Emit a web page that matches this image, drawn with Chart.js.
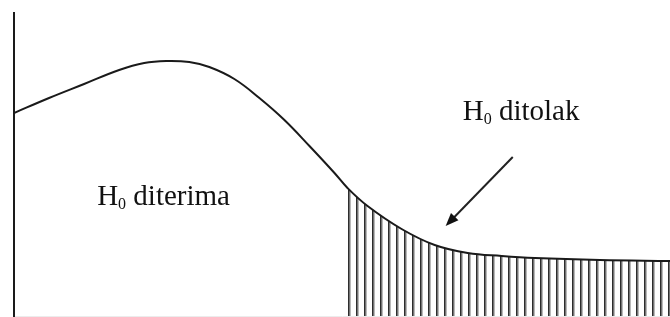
<!DOCTYPE html>
<html>
<head>
<meta charset="utf-8">
<script src="https://cdn.jsdelivr.net/npm/chart.js@4.4.1/dist/chart.umd.min.js"></script>
<style>
  html, body { margin: 0; padding: 0; background: #fff; }
  #wrap { width: 670px; height: 317px; position: relative; }
</style>
</head>
<body>
<div id="wrap"><canvas id="c-uji"></canvas></div>
<script>
// curve (x from the left axis, y up from the bottom)
const curveX = [0, 35, 70, 105, 130, 152, 175, 195, 220, 245, 270, 295, 320, 333, 353, 387, 420, 453, 487, 520, 585, 655];
const curveY = [203, 218, 232, 246, 253, 255, 254, 249, 237, 218, 196, 170, 143, 128, 110, 87, 71, 63, 60, 58, 56, 55];
const criticalX = 333;

const labelTerima = "diterima";
const labelTolak = "ditolak";
const terimaAt = { x: 83, y: 111 };
const tolakAt = { x: 448, y: 196 };
const arrowFrom = { x: 498, y: 159 };
const arrowTo = { x: 431, y: 90 };

const curvePoints = curveX.map((x, i) => ({ x, y: curveY[i] }));
const tailPoints = curvePoints.filter((p) => p.x >= criticalX);

function makeHatch() {
  const tile = document.createElement("canvas");
  tile.width = 8;
  tile.height = 4;
  const g = tile.getContext("2d");
  g.fillStyle = "rgb(45,45,45)";
  g.fillRect(0, 0, 1, 4);
  g.fillStyle = "rgb(115,115,115)";
  g.fillRect(1, 0, 1, 4);
  g.fillStyle = "rgb(185,185,185)";
  g.fillRect(2, 0, 1, 4);
  return tile;
}
const hatchTile = makeHatch();
let hatch = null;

function hatchColor(context) {
  const chart = context.chart;
  if (!hatch) hatch = chart.ctx.createPattern(hatchTile, "repeat");
  if (chart.chartArea && chart.scales.x) {
    const off = Math.round(chart.scales.x.getPixelForValue(criticalX)) % 8;
    hatch.setTransform(new DOMMatrix().translate(off, 0));
  }
  return hatch;
}

function drawLabel(ctx, x, y, word) {
  ctx.fillStyle = "#111";
  ctx.textBaseline = "alphabetic";
  ctx.textAlign = "left";
  ctx.font = '29px "Liberation Serif"';
  ctx.fillText("H", x, y);
  let w = ctx.measureText("H").width;
  ctx.font = '16px "Liberation Serif"';
  ctx.fillText("0", x + w, y + 4);
  w += ctx.measureText("0").width;
  ctx.font = '29px "Liberation Serif"';
  ctx.fillText(" " + word, x + w, y);
}

const annotations = {
  id: "annotations",
  afterDatasetsDraw(chart) {
    const { ctx, scales: { x, y } } = chart;
    ctx.save();
    drawLabel(ctx, x.getPixelForValue(terimaAt.x), y.getPixelForValue(terimaAt.y), labelTerima);
    drawLabel(ctx, x.getPixelForValue(tolakAt.x), y.getPixelForValue(tolakAt.y), labelTolak);

    const x1 = x.getPixelForValue(arrowFrom.x), y1 = y.getPixelForValue(arrowFrom.y);
    const x2 = x.getPixelForValue(arrowTo.x), y2 = y.getPixelForValue(arrowTo.y);
    const ang = Math.atan2(y2 - y1, x2 - x1);
    const head = 14;
    ctx.strokeStyle = "#222";
    ctx.lineWidth = 2;
    ctx.beginPath();
    ctx.moveTo(x1, y1);
    ctx.lineTo(x2 - Math.cos(ang) * head * 0.8, y2 - Math.sin(ang) * head * 0.8);
    ctx.stroke();
    ctx.fillStyle = "#111";
    ctx.beginPath();
    ctx.moveTo(x2, y2);
    ctx.lineTo(x2 - head * Math.cos(ang - 0.38), y2 - head * Math.sin(ang - 0.38));
    ctx.lineTo(x2 - head * Math.cos(ang + 0.38), y2 - head * Math.sin(ang + 0.38));
    ctx.closePath();
    ctx.fill();
    ctx.restore();
  }
};

new Chart(document.getElementById("c-uji"), {
  type: "line",
  data: {
    datasets: [
      { data: curvePoints, borderColor: "#1a1a1a", borderWidth: 2, pointRadius: 0, tension: 0.4, fill: false },
      { data: tailPoints, borderWidth: 0, borderColor: "rgba(0,0,0,0)", pointRadius: 0, tension: 0.4, fill: "origin", backgroundColor: hatchColor }
    ]
  },
  options: {
    responsive: true,
    maintainAspectRatio: false,
    animation: false,
    layout: { padding: { left: 14, top: 13, right: 0, bottom: 1 } },
    plugins: { legend: { display: false }, tooltip: { enabled: false } },
    scales: {
      x: {
        type: "linear", min: 0, max: 655,
        grid: { display: false, drawTicks: false },
        ticks: { display: false },
        border: { display: true, color: "#ececec", width: 1 }
      },
      y: {
        type: "linear", min: 0, max: 303,
        grid: { display: false, drawTicks: false },
        ticks: { display: false },
        border: { display: true, color: "#1a1a1a", width: 2 }
      }
    }
  },
  plugins: [annotations]
});
</script>
</body>
</html>
